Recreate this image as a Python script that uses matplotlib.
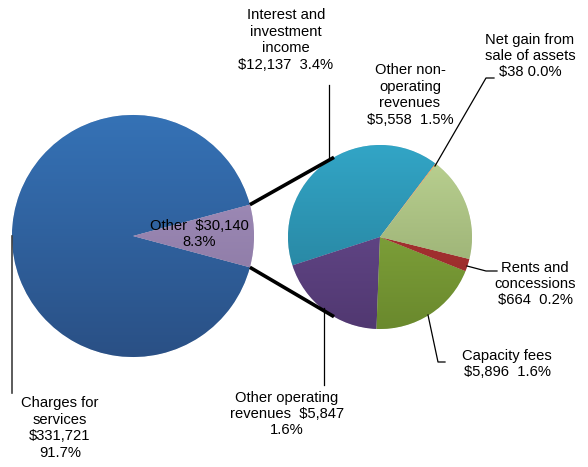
import numpy as np
import matplotlib
matplotlib.use("Agg")
import matplotlib.pyplot as plt
from matplotlib.colors import LinearSegmentedColormap

plt.rcParams["font.family"] = ["Liberation Sans", "DejaVu Sans"]

# Revenue sources (dollars, thousands)
main_labels = ["Charges for\nservices", "Other"]
main_values = [331721, 30140]

sub_labels = [
    "Interest and\ninvestment\nincome",
    "Other operating\nrevenues",
    "Capacity fees",
    "Rents and\nconcessions",
    "Other non-\noperating\nrevenues",
    "Net gain from\nsale of assets",
]
sub_values = [12137, 5847, 5896, 664, 5558, 38]

total = sum(main_values)

# (top, bottom) gradient colours per slice
main_colors = [("#3572B6", "#2A5085"), ("#AA96C3", "#82709A")]
sub_colors = [
    ("#32A5C6", "#257B95"),
    ("#6C4F95", "#513871"),
    ("#8DB243", "#6A892D"),
    ("#B23535", "#932A2A"),
    ("#BCD393", "#8FA469"),
    ("#F0913E", "#D07A30"),
]

W, H = 588, 467
fig = plt.figure(figsize=(W / 100, H / 100), dpi=100)
ax = fig.add_axes([0, 0, 1, 1])


def py(y):
    # image-style y (from top) to data y
    return H - y


main_c, main_r = (133, py(236)), 121
sub_c, sub_r = (380, py(237)), 92

other_span = 360 * main_values[1] / total
main_wedges, _ = ax.pie(main_values, center=main_c, radius=main_r,
                        startangle=other_span / 2, counterclock=True,
                        wedgeprops=dict(edgecolor="white", linewidth=0.4))
sub_wedges, _ = ax.pie(sub_values, center=sub_c, radius=sub_r,
                       startangle=53, counterclock=True,
                       wedgeprops=dict(edgecolor="white", linewidth=0.4))


def shade(wedges, colors, c, r):
    grad = np.linspace(0, 1, 256).reshape(-1, 1)
    for w, (top, bot) in zip(wedges, colors):
        cmap = LinearSegmentedColormap.from_list("g", [top, bot])
        w.set_facecolor(bot)
        w.set_zorder(2)
        im = ax.imshow(grad, cmap=cmap, origin="upper", aspect="auto",
                       extent=[c[0] - r, c[0] + r, c[1] - r, c[1] + r],
                       zorder=2.5, interpolation="bilinear")
        im.set_clip_path(w)


shade(main_wedges, main_colors, main_c, main_r)
shade(sub_wedges, sub_colors, sub_c, sub_r)

# connector lines between the "Other" slice and the secondary pie
half = np.radians(other_span / 2)
for sgn, ang in [(1, 120), (-1, 240)]:
    x0 = main_c[0] + main_r * np.cos(sgn * half)
    y0 = main_c[1] + main_r * np.sin(sgn * half)
    x1 = sub_c[0] + sub_r * np.cos(np.radians(ang))
    y1 = sub_c[1] + sub_r * np.sin(np.radians(ang))
    ax.plot([x0, x1], [y0, y1], color="black", lw=2.6,
            solid_capstyle="butt", zorder=4)


def label_text(name, v, sep="\n"):
    return f"{name}{sep}${v:,}  {100 * v / total:.1f}%"


fs = 10.6
ls = 1.22

# main pie labels
ax.text(199, py(234), f"Other  ${main_values[1]:,}\n{100 * main_values[1] / total:.1f}%",
        ha="center", va="center", fontsize=fs, linespacing=ls, zorder=5)
ax.text(60, py(428), f"{main_labels[0]}\n${main_values[0]:,}\n{100 * main_values[0] / total:.1f}%",
        ha="center", va="center", fontsize=fs, linespacing=ls, zorder=5)
ax.plot([12, 12], [py(236), py(393)], color="#404040", lw=1.2, zorder=5)

# secondary pie labels: (text centre, leader line points)
sub_layout = [
    ((286, 40), [(329, 85), (329, 158)]),
    ((287, 414), [(324, 308), (324, 385)]),
    ((507, 364), [(428, 315), (438, 362), (445, 362)]),
    ((535, 284), [(467, 266), (486, 271), (497, 271)]),
    ((410, 95), None),
    ((530, 56), [(435, 166), (486, 78), (494, 78)]),
]
for name, v, ((tx, ty), leader) in zip(sub_labels, sub_values, sub_layout):
    if name.startswith("Other operating"):
        txt = f"Other operating\nrevenues  ${v:,}\n{100 * v / total:.1f}%"
    elif name.startswith("Net gain"):
        txt = f"Net gain from\nsale of assets\n${v:,} {100 * v / total:.1f}%"
    else:
        txt = label_text(name, v)
    ax.text(tx, py(ty), txt, ha="center", va="center", fontsize=fs,
            linespacing=ls, zorder=5)
    if leader:
        xs, ys = zip(*leader)
        ax.plot(xs, [py(y) for y in ys], color="black", lw=0.9, zorder=5)

ax.set_xlim(0, W)
ax.set_ylim(0, H)
ax.set_aspect("equal")
ax.axis("off")

fig.savefig("out.png", dpi=100, facecolor="white")
